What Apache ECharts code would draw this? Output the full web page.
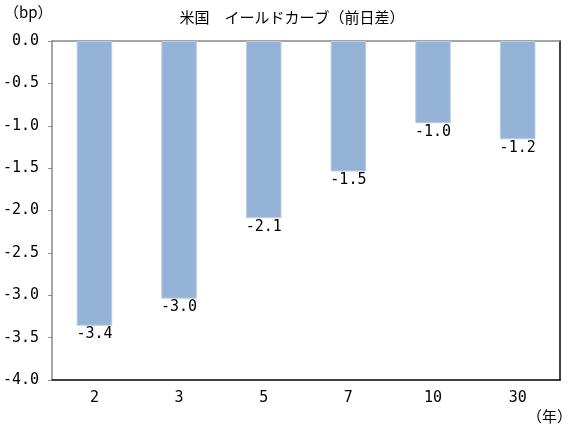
<!DOCTYPE html>
<html>
<head>
<meta charset="utf-8">
<script src="https://cdn.jsdelivr.net/npm/echarts@6/dist/echarts.min.js"></script>
<style>html,body{margin:0;padding:0;background:#fff;}#c{width:572px;height:431px;}</style>
</head>
<body>
<div id="c"></div>
<script>
const categories = ['2', '3', '5', '7', '10', '30'];
const values = [-3.36, -3.04, -2.09, -1.54, -0.97, -1.16];
const yTicks = { min: -4, max: 0, interval: 0.5 };
const titleText = '米国　イールドカーブ（前日差）';
const yUnit = '（bp）';
const xUnit = '（年）';

const monoFont = '"DejaVu Sans Mono", "Liberation Mono", monospace';
const jpFont = '"Noto Sans CJK JP", sans-serif';

const chart = echarts.init(document.getElementById('c'), null, { renderer: 'canvas' });
chart.setOption({
  animation: false,
  backgroundColor: '#ffffff',
  title: {
    text: titleText, left: 287, top: 5, textAlign: 'center',
    textStyle: { fontFamily: jpFont, fontSize: 15, fontWeight: 'normal', color: '#000' }
  },
  graphic: [
    { type: 'text', left: 4, top: 5, style: { text: yUnit, font: '15px ' + jpFont, fill: '#000' } },
    { type: 'text', right: 0, top: 409, style: { text: xUnit, font: '15px ' + jpFont, fill: '#000' } }
  ],
  grid: { left: 49, top: 41, right: 12, bottom: 51, containLabel: false },
  xAxis: [
    {
      type: 'category', data: categories, position: 'bottom',
      axisLine: { show: true, onZero: false, lineStyle: { color: '#000', width: 1.5 } },
      axisTick: { show: false },
      axisLabel: { margin: 11, color: '#000', fontFamily: monoFont, fontSize: 15 }
    },
    {
      type: 'category', data: categories, position: 'top',
      axisLine: { show: true, onZero: false, lineStyle: { color: '#888', width: 1.5 } },
      axisTick: { show: false }, axisLabel: { show: false }
    }
  ],
  yAxis: [
    {
      type: 'value', min: yTicks.min, max: yTicks.max, interval: yTicks.interval,
      axisLine: { show: true, lineStyle: { color: '#888', width: 1.5 } },
      axisTick: { show: true, length: 4, lineStyle: { color: '#888' } },
      splitLine: { show: false },
      axisLabel: { margin: 13, color: '#000', fontFamily: monoFont, fontSize: 15,
        formatter: v => v.toFixed(1) }
    },
    {
      type: 'value', min: yTicks.min, max: yTicks.max, interval: yTicks.interval, position: 'right',
      axisLine: { show: true, lineStyle: { color: '#000', width: 1.5 } },
      axisTick: { show: false }, axisLabel: { show: false }, splitLine: { show: false }
    }
  ],
  series: [{
    type: 'bar', data: values, barWidth: '42%',
    itemStyle: { color: '#95b3d7', borderColor: '#b9cde5', borderWidth: 1 },
    label: {
      show: true, position: 'bottom', distance: 1, color: '#000',
      fontFamily: monoFont, fontSize: 15,
      formatter: p => p.value.toFixed(1)
    }
  }]
});
</script>
</body>
</html>
